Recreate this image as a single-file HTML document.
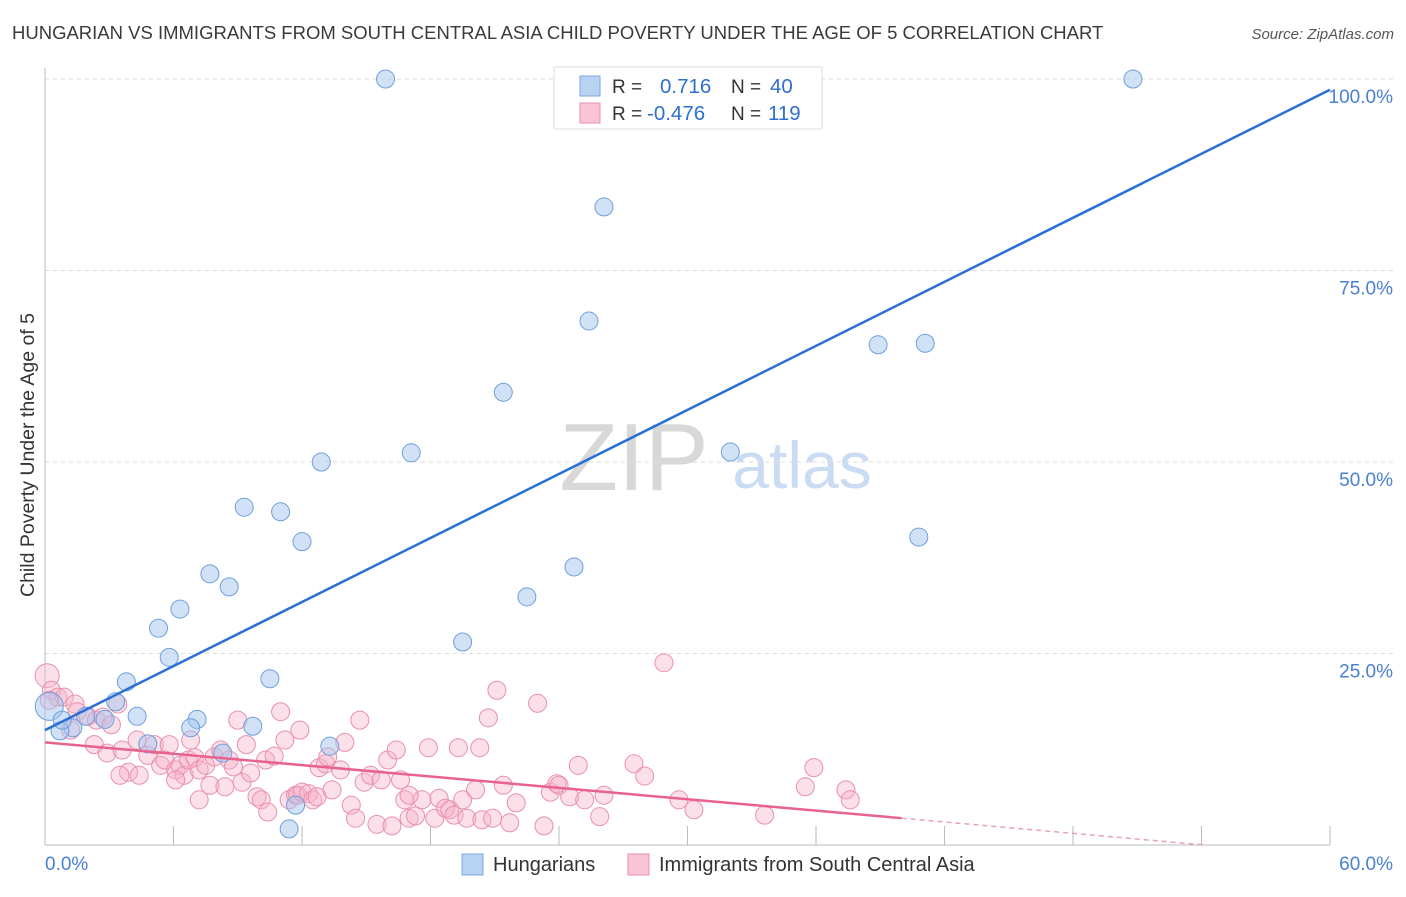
<!DOCTYPE html>
<html><head><meta charset="utf-8"><style>
body{margin:0;background:#fff;font-family:"Liberation Sans",sans-serif;}
svg text{font-family:"Liberation Sans",sans-serif;}
</style></head><body>
<svg id="chart" width="1406" height="892" xmlns="http://www.w3.org/2000/svg">
<text x="12" y="39" font-size="18.5" fill="#3a3a3a">HUNGARIAN VS IMMIGRANTS FROM SOUTH CENTRAL ASIA CHILD POVERTY UNDER THE AGE OF 5 CORRELATION CHART</text>
<text x="1394" y="39" font-size="15" fill="#555" font-style="italic" text-anchor="end">Source: ZipAtlas.com</text>
<g>
<text x="634" y="490" font-size="96" fill="#d8d8d8" font-family="Liberation Serif" text-anchor="middle">ZIP</text>
<text x="802" y="488" font-size="66" fill="#c9dcf3" text-anchor="middle">atlas</text>
</g>
<g id="grid"></g>
<g id="axes"></g>
<g id="pts"></g>
<g id="lines"></g>
<text transform="translate(34,455) rotate(-90)" font-size="19.5" fill="#333" text-anchor="middle">Child Poverty Under the Age of 5</text>
<g>
<rect x="554" y="67" width="268" height="62" fill="#fff" stroke="#ddd"/>
<rect x="580" y="76" width="20" height="20" fill="#b8d2f2" stroke="#7aa6e0"/>
<rect x="580" y="103" width="20" height="20" fill="#f9c4d4" stroke="#e890ad"/>
<text x="612" y="93" font-size="19" fill="#333">R = </text><text x="660" y="93" font-size="20.5" fill="#2e6fd0">0.716</text>
<text x="731" y="93" font-size="19" fill="#333">N = </text><text x="770" y="93" font-size="20.5" fill="#2e6fd0">40</text>
<text x="612" y="120" font-size="19" fill="#333">R = </text><text x="647" y="120" font-size="20.5" fill="#2e6fd0">-0.476</text>
<text x="731" y="120" font-size="19" fill="#333">N = </text><text x="768" y="120" font-size="20.5" fill="#2e6fd0">119</text>
</g>
<g>
<rect x="462" y="854" width="21" height="21" fill="#b8d2f2" stroke="#7aa6e0"/>
<text x="493" y="871" font-size="20" fill="#333">Hungarians</text>
<rect x="628" y="854" width="21" height="21" fill="#f9c4d4" stroke="#e890ad"/>
<text x="659" y="871" font-size="20" fill="#333">Immigrants from South Central Asia</text>
</g>
</svg>
<script>
const xTicks=[0,60];
const yTicks=[25,50,75,100];
const blueX=[15.9,50.8,26.1,25.4,38.9,41.1,21.4,12.9,17.1,32.0,9.3,11.0,12.0,40.8,7.7,8.6,24.7,6.3,22.5,5.3,5.8,19.5,3.8,10.5,3.3,4.3,7.1,2.8,6.8,9.7,1.3,4.8,8.3,13.3,0.7,11.7,11.4,0.2,1.9,0.8];
const blueY=[100,100,83.3,68.4,65.3,65.5,59.1,50.0,51.2,51.3,44.1,43.5,39.6,40.2,35.4,33.7,36.3,30.8,32.4,28.3,24.5,26.5,21.3,21.7,18.7,16.8,16.4,16.4,15.3,15.5,15.3,13.2,12.0,12.9,14.9,5.2,2.1,18.1,16.8,16.3];
const pinkX=[0.1,0.3,0.6,0.9,1.4,1.5,2.0,2.4,2.7,3.1,3.4,2.3,2.9,3.6,3.9,4.3,4.4,4.8,5.1,5.4,5.6,5.8,6.1,6.3,6.5,6.7,7.0,7.2,7.5,7.7,7.9,8.2,8.4,8.6,8.8,9.0,9.2,9.4,9.6,9.9,10.1,10.3,10.4,10.7,11.0,11.2,11.4,11.7,11.8,12.0,12.3,12.5,12.7,12.8,13.1,13.2,13.4,13.8,14.0,14.3,14.5,14.7,14.9,15.2,15.5,15.7,16.0,16.2,16.4,16.6,16.8,17.0,17.3,17.6,17.9,18.2,18.4,18.7,18.9,19.1,19.3,19.5,19.7,20.1,20.3,20.4,20.7,20.9,21.1,21.4,21.7,22.0,23.0,23.3,23.6,23.9,24.0,24.5,24.9,25.2,25.9,26.1,27.5,28.0,28.9,29.6,30.3,33.6,35.5,35.9,37.4,37.6,0.2,1.2,3.5,6.8,11.9,17.0,7.2,6.1];
const pinkY=[22.1,20.2,19.3,19.3,18.4,17.4,16.8,16.3,16.7,15.7,18.4,13.1,12.0,12.4,9.5,13.7,9.1,11.7,13.1,10.4,11.1,13.1,9.8,10.4,9.1,11.1,11.4,9.8,10.4,7.8,11.5,12.4,7.6,11.1,10.2,16.3,8.2,13.1,9.4,6.3,5.9,11.1,4.3,11.6,17.4,13.7,5.9,6.5,6.5,6.9,6.7,5.9,6.3,10.1,10.6,11.5,7.2,9.8,13.4,5.2,3.5,16.3,8.2,9.1,2.7,8.5,11.1,2.5,12.4,8.5,5.9,3.5,3.8,5.9,12.7,3.5,6.1,4.8,4.6,3.9,12.7,5.9,3.5,7.2,12.7,3.3,16.6,3.5,20.2,7.8,2.9,5.5,18.5,2.5,6.9,8.0,7.8,6.3,10.4,5.9,3.7,6.5,10.6,9.0,23.8,5.9,4.6,3.9,7.6,10.1,7.2,5.9,18.9,15.0,9.1,13.7,15.0,6.5,5.9,8.5];
const blueLine=[15.0,98.6];
const pinkLine=[13.4,-0.2475];
const X0=45,X1=1330,Y0=845,Y100=79;
const sx=v=>X0+(v/60)*(X1-X0);
const sy=v=>Y0-(v/100)*(Y0-Y100);
const NS='http://www.w3.org/2000/svg';
function mk(parent,tag,attrs){const e=document.createElementNS(NS,tag);for(const k in attrs)e.setAttribute(k,attrs[k]);parent.appendChild(e);return e;}
const grid=document.getElementById('grid'),axes=document.getElementById('axes'),pts=document.getElementById('pts'),lines=document.getElementById('lines');
yTicks.forEach(t=>{
 const l=mk(grid,'line',{x1:X0,x2:1395,y1:sy(t),y2:sy(t),stroke:'#ddd','stroke-dasharray':'4,4'});
 
 
 const tx=mk(axes,'text',{x:1393,y:sy(t)+24,'font-size':19,fill:'#4a7fd4','text-anchor':'end'});
 tx.textContent=t.toFixed(1)+'%';
 
 
});
mk(axes,'line',{x1:X0,x2:X0,y1:68,y2:Y0,stroke:'#bbb'});
mk(axes,'line',{x1:X0,x2:X1,y1:Y0,y2:Y0,stroke:'#bbb'});
for(let i=0;i<=10;i++){const x=sx(i*6);mk(axes,'line',{x1:x,x2:x,y1:826,y2:Y0,stroke:'#bbb'});}
xTicks.forEach((t,i)=>{
 const tx=mk(axes,'text',{x:i==0?X0:1393,y:870,'font-size':19,fill:'#4a7fd4','text-anchor':i==0?'start':'end'});
 tx.textContent=t.toFixed(1)+'%';
 
 
});
pinkX.forEach((x,i)=>{
 const c=mk(pts,'circle',{cx:sx(x),cy:sy(pinkY[i]),r:i<1?12:9,fill:'rgba(248,178,200,0.4)',stroke:'#e88fad','stroke-width':1});
 
 
});
blueX.forEach((x,i)=>{
 const c=mk(pts,'circle',{cx:sx(x),cy:sy(blueY[i]),r:i==37?14:9,fill:'rgba(164,198,238,0.5)',stroke:'#6e9fdc','stroke-width':1});
 
 
});
const bl=mk(lines,'line',{x1:sx(0),y1:sy(blueLine[0]),x2:sx(60),y2:sy(blueLine[1]),stroke:'#2a6fd6','stroke-width':2.5});


const pl=mk(lines,'line',{x1:sx(0),y1:sy(pinkLine[0]),x2:sx(40),y2:sy(pinkLine[0]+pinkLine[1]*40),stroke:'#e8628e','stroke-width':2.5});


const xe=-pinkLine[0]/pinkLine[1];
const pd=mk(lines,'line',{x1:sx(40),y1:sy(pinkLine[0]+pinkLine[1]*40),x2:sx(xe),y2:sy(0),stroke:'#e8a0b8','stroke-width':1.5,'stroke-dasharray':'5,4'});


</script>
</body></html>
